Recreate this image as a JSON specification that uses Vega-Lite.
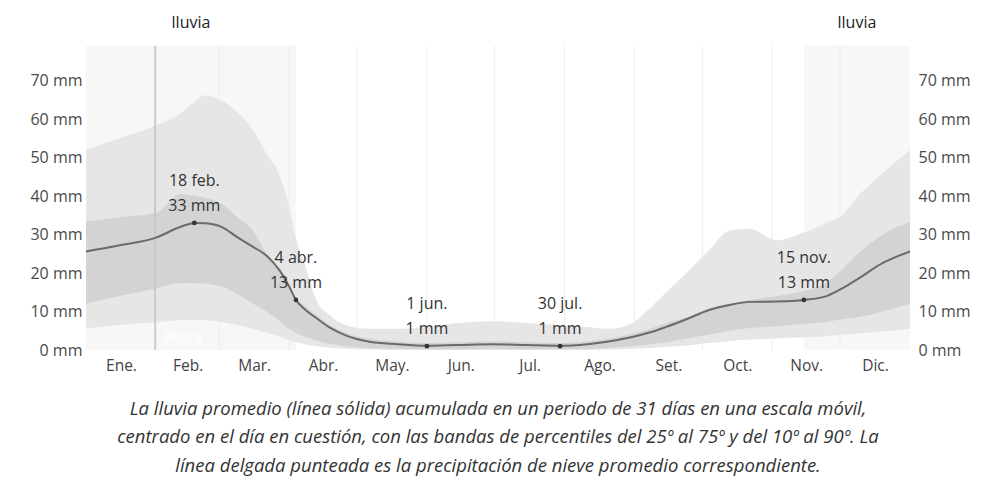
{
  "$schema": "https://vega.github.io/schema/vega-lite/v6.json",
  "width": 824,
  "height": 308,
  "autosize": "none",
  "padding": {"left": 86, "top": 42, "right": 79, "bottom": 138},
  "background": "white",
  "config": {"view": {"stroke": null}, "font": "Open Sans", "text": {"font": "Open Sans"}},
  "datasets": {
    "rain": [
      {"day": 0, "mean": 25.6, "p10": 5.5, "p25": 12, "p75": 33.3, "p90": 52},
      {"day": 15, "mean": 27.2, "p10": 6.5, "p25": 14, "p75": 34.5, "p90": 55},
      {"day": 31, "mean": 29.2, "p10": 7.2, "p25": 16, "p75": 35.6, "p90": 58.4},
      {"day": 42, "mean": 32, "p10": 7.8, "p25": 17.4, "p75": 40.5, "p90": 61.5},
      {"day": 48, "mean": 33, "p10": 7.8, "p25": 17.4, "p75": 40, "p90": 64.5},
      {"day": 53, "mean": 32.9, "p10": 7.7, "p25": 17.2, "p75": 39.5, "p90": 66.2},
      {"day": 60, "mean": 32, "p10": 7.3, "p25": 16.5, "p75": 38, "p90": 64.9},
      {"day": 67, "mean": 29.3, "p10": 6.5, "p25": 14.5, "p75": 34.5, "p90": 61.8},
      {"day": 74, "mean": 26.8, "p10": 5.5, "p25": 12, "p75": 31, "p90": 57},
      {"day": 80, "mean": 24.5, "p10": 4.5, "p25": 10, "p75": 25, "p90": 51},
      {"day": 86, "mean": 20.5, "p10": 3.5, "p25": 7.5, "p75": 20.5, "p90": 45},
      {"day": 90, "mean": 16.5, "p10": 2.5, "p25": 5.5, "p75": 16.5, "p90": 37},
      {"day": 93, "mean": 13, "p10": 2, "p25": 4.5, "p75": 13.5, "p90": 29},
      {"day": 97, "mean": 10.5, "p10": 1.5, "p25": 3.5, "p75": 11.5, "p90": 22},
      {"day": 102, "mean": 8.3, "p10": 1, "p25": 2.5, "p75": 9, "p90": 13},
      {"day": 108, "mean": 5.8, "p10": 0.6, "p25": 1.6, "p75": 6.5, "p90": 9},
      {"day": 115, "mean": 3.8, "p10": 0.3, "p25": 1, "p75": 4.5, "p90": 6.5},
      {"day": 125, "mean": 2.2, "p10": 0.1, "p25": 0.5, "p75": 3, "p90": 5.5},
      {"day": 138, "mean": 1.5, "p10": 0, "p25": 0.3, "p75": 2.2, "p90": 5.5},
      {"day": 151, "mean": 1.1, "p10": 0, "p25": 0.2, "p75": 1.8, "p90": 6},
      {"day": 165, "mean": 1.3, "p10": 0, "p25": 0.2, "p75": 2, "p90": 7},
      {"day": 180, "mean": 1.5, "p10": 0, "p25": 0.3, "p75": 2.2, "p90": 7.5},
      {"day": 195, "mean": 1.3, "p10": 0, "p25": 0.2, "p75": 2, "p90": 7},
      {"day": 210, "mean": 1.1, "p10": 0, "p25": 0.2, "p75": 1.8, "p90": 6.5},
      {"day": 222, "mean": 1.5, "p10": 0, "p25": 0.3, "p75": 2.2, "p90": 6},
      {"day": 232, "mean": 2.3, "p10": 0.1, "p25": 0.6, "p75": 3, "p90": 5.5},
      {"day": 242, "mean": 3.4, "p10": 0.3, "p25": 1, "p75": 4.2, "p90": 7},
      {"day": 250, "mean": 4.6, "p10": 0.5, "p25": 1.5, "p75": 5.5, "p90": 11},
      {"day": 257, "mean": 6, "p10": 0.8, "p25": 2, "p75": 7, "p90": 15},
      {"day": 266, "mean": 8, "p10": 1.2, "p25": 3, "p75": 8.5, "p90": 20},
      {"day": 276, "mean": 10.4, "p10": 1.8, "p25": 4, "p75": 10.8, "p90": 26},
      {"day": 285, "mean": 11.7, "p10": 2.3, "p25": 5, "p75": 12, "p90": 31},
      {"day": 294, "mean": 12.5, "p10": 2.7, "p25": 5.7, "p75": 13, "p90": 31.5},
      {"day": 306, "mean": 12.6, "p10": 3, "p25": 6.2, "p75": 14, "p90": 28.5},
      {"day": 318, "mean": 13, "p10": 3.3, "p25": 6.8, "p75": 15.3, "p90": 30.5},
      {"day": 328, "mean": 14, "p10": 3.6, "p25": 7.3, "p75": 17.5, "p90": 33},
      {"day": 335, "mean": 16, "p10": 4, "p25": 8, "p75": 21, "p90": 35},
      {"day": 342, "mean": 18.5, "p10": 4.3, "p25": 8.5, "p75": 25, "p90": 40},
      {"day": 353, "mean": 22.6, "p10": 4.8, "p25": 10, "p75": 30, "p90": 46},
      {"day": 365, "mean": 25.6, "p10": 5.5, "p25": 12, "p75": 33.3, "p90": 52}
    ],
    "seasons": [
      {"start": 0, "end": 93, "mid": 46.5, "label": "lluvia"},
      {"start": 318, "end": 365, "mid": 341.5, "label": "lluvia"}
    ],
    "months": [
      {"day": 31}, {"day": 59}, {"day": 90}, {"day": 120}, {"day": 151}, {"day": 181},
      {"day": 212}, {"day": 243}, {"day": 273}, {"day": 304}, {"day": 334}
    ],
    "marks": [
      {"day": 48, "value": 33, "date": "18 feb.", "label": "33 mm"},
      {"day": 93, "value": 13, "date": "4 abr.", "label": "13 mm"},
      {"day": 151, "value": 1, "date": "1 jun.", "label": "1 mm"},
      {"day": 210, "value": 1, "date": "30 jul.", "label": "1 mm"},
      {"day": 318, "value": 13, "date": "15 nov.", "label": "13 mm"}
    ],
    "now": [{"day": 30.6, "label": "Ahora"}]
  },
  "resolve": {"axis": {"y": "independent"}},
  "layer": [
    {
      "data": {"name": "seasons"},
      "mark": {"type": "rect", "color": "#f7f7f7"},
      "encoding": {
        "x": {"field": "start", "type": "quantitative", "scale": {"domain": [0, 365], "nice": false, "zero": false},
              "axis": {"values": [15.5, 45, 74.5, 105, 135.5, 166, 196.5, 227.5, 258, 288.5, 319, 349.5],
                       "labelExpr": "['Ene.','Feb.','Mar.','Abr.','May.','Jun.','Jul.','Ago.','Set.','Oct.','Nov.','Dic.'][floor(datum.value/30.5)]",
                       "title": null, "domain": false, "ticks": false, "grid": false, "labelPadding": 8,
                       "labelFontSize": 15.5, "labelColor": "#444444", "labelFont": "Open Sans"}},
        "x2": {"field": "end"},
        "y": {"datum": 0, "type": "quantitative", "scale": {"domain": [0, 80], "nice": false}, "axis": null},
        "y2": {"datum": 79}
      }
    },
    {
      "data": {"name": "months"},
      "mark": {"type": "rule", "color": "#ededed", "strokeWidth": 1},
      "encoding": {
        "x": {"field": "day", "type": "quantitative", "scale": {"domain": [0, 365], "nice": false, "zero": false}},
        "y": {"datum": 0, "type": "quantitative", "scale": {"domain": [0, 80], "nice": false}, "axis": null},
        "y2": {"datum": 79}
      }
    },
    {
      "data": {"name": "rain"},
      "mark": {"type": "area", "color": "#e6e6e6", "interpolate": "monotone"},
      "encoding": {
        "x": {"field": "day", "type": "quantitative", "scale": {"domain": [0, 365], "nice": false, "zero": false}},
        "y": {"field": "p10", "type": "quantitative", "scale": {"domain": [0, 80], "nice": false},
              "axis": {"orient": "left", "values": [0, 10, 20, 30, 40, 50, 60, 70], "labelExpr": "datum.value + ' mm'",
                       "title": null, "domain": false, "ticks": false, "grid": false, "labelPadding": 4,
                       "labelFontSize": 16, "labelColor": "#4a4a4a", "labelFont": "Open Sans"}},
        "y2": {"field": "p90"}
      }
    },
    {
      "data": {"name": "rain"},
      "mark": {"type": "area", "color": "#d3d3d3", "interpolate": "monotone"},
      "encoding": {
        "x": {"field": "day", "type": "quantitative", "scale": {"domain": [0, 365], "nice": false, "zero": false}},
        "y": {"field": "p25", "type": "quantitative", "scale": {"domain": [0, 80], "nice": false}, "axis": null},
        "y2": {"field": "p75"}
      }
    },
    {
      "data": {"name": "now"},
      "mark": {"type": "rule", "color": "#c2c2c2", "strokeWidth": 1.5},
      "encoding": {
        "x": {"field": "day", "type": "quantitative", "scale": {"domain": [0, 365], "nice": false, "zero": false}},
        "y": {"datum": 0, "type": "quantitative", "scale": {"domain": [0, 80], "nice": false}, "axis": null},
        "y2": {"datum": 79}
      }
    },
    {
      "data": {"name": "now"},
      "mark": {"type": "text", "color": "#ffffff", "fontSize": 14, "align": "left", "baseline": "middle", "dx": 8},
      "encoding": {
        "x": {"field": "day", "type": "quantitative", "scale": {"domain": [0, 365], "nice": false, "zero": false}},
        "y": {"datum": 3, "type": "quantitative", "scale": {"domain": [0, 80], "nice": false}, "axis": null},
        "text": {"field": "label"}
      }
    },
    {
      "data": {"name": "rain"},
      "mark": {"type": "line", "color": "#6a6a6a", "strokeWidth": 2, "interpolate": "monotone"},
      "encoding": {
        "x": {"field": "day", "type": "quantitative", "scale": {"domain": [0, 365], "nice": false, "zero": false}},
        "y": {"field": "mean", "type": "quantitative", "scale": {"domain": [0, 80], "nice": false},
              "axis": {"orient": "right", "values": [0, 10, 20, 30, 40, 50, 60, 70], "labelExpr": "datum.value + ' mm'",
                       "title": null, "domain": false, "ticks": false, "grid": false, "labelPadding": 8,
                       "labelFontSize": 16, "labelColor": "#4a4a4a", "labelFont": "Open Sans"}}
      }
    },
    {
      "data": {"name": "marks"},
      "mark": {"type": "point", "filled": true, "color": "#333333", "size": 22, "opacity": 1},
      "encoding": {
        "x": {"field": "day", "type": "quantitative", "scale": {"domain": [0, 365], "nice": false, "zero": false}},
        "y": {"field": "value", "type": "quantitative", "scale": {"domain": [0, 80], "nice": false}, "axis": null}
      }
    },
    {
      "data": {"name": "marks"},
      "mark": {"type": "text", "color": "#333333", "fontSize": 16, "baseline": "middle", "align": "center", "dy": -42},
      "encoding": {
        "x": {"field": "day", "type": "quantitative", "scale": {"domain": [0, 365], "nice": false, "zero": false}},
        "y": {"field": "value", "type": "quantitative", "scale": {"domain": [0, 80], "nice": false}, "axis": null},
        "text": {"field": "date"}
      }
    },
    {
      "data": {"name": "marks"},
      "mark": {"type": "text", "color": "#333333", "fontSize": 16, "baseline": "middle", "align": "center", "dy": -17},
      "encoding": {
        "x": {"field": "day", "type": "quantitative", "scale": {"domain": [0, 365], "nice": false, "zero": false}},
        "y": {"field": "value", "type": "quantitative", "scale": {"domain": [0, 80], "nice": false}, "axis": null},
        "text": {"field": "label"}
      }
    },
    {
      "data": {"name": "seasons"},
      "mark": {"type": "text", "color": "#222222", "fontSize": 16, "fontWeight": "normal", "baseline": "middle", "align": "center"},
      "encoding": {
        "x": {"field": "mid", "type": "quantitative", "scale": {"domain": [0, 365], "nice": false, "zero": false}},
        "y": {"datum": 85, "type": "quantitative", "scale": {"domain": [0, 80], "nice": false}, "axis": null},
        "text": {"field": "label"}
      }
    }
  ],
  "title": {
    "text": [
      "La lluvia promedio (línea sólida) acumulada en un periodo de 31 días en una escala móvil,",
      "centrado en el día en cuestión, con las bandas de percentiles del 25º al 75º y del 10º al 90º. La",
      "línea delgada punteada es la precipitación de nieve promedio correspondiente."
    ],
    "orient": "bottom",
    "anchor": "middle",
    "font": "Open Sans",
    "fontSize": 18.5,
    "fontStyle": "italic",
    "fontWeight": "normal",
    "color": "#333333",
    "lineHeight": 28.5,
    "offset": 26
  }
}
